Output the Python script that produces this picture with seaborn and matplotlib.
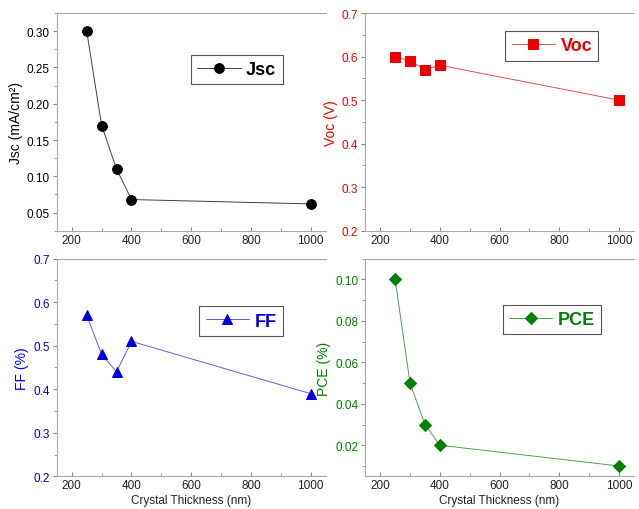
import numpy as np
import pandas as pd
import seaborn as sns
import matplotlib.pyplot as plt
from matplotlib.ticker import AutoMinorLocator, MultipleLocator

# Data
thickness = [250, 300, 350, 400, 1000]
jsc = [0.30, 0.17, 0.11, 0.068, 0.062]
voc = [0.60, 0.59, 0.57, 0.58, 0.50]
ff = [0.57, 0.48, 0.44, 0.51, 0.39]
pce = [0.10, 0.05, 0.03, 0.02, 0.01]

sns.set_style('ticks')
plt.rcParams['font.family'] = ['Liberation Sans', 'DejaVu Sans']

fig, axes = plt.subplots(2, 2, figsize=(6.39, 5.10), dpi=100)
fig.subplots_adjust(left=0.089, right=0.992, top=0.9725, bottom=0.064,
                    wspace=0.148, hspace=0.128)

panels = [
    (axes[0, 0], jsc, 'Jsc', 'o', 'black', '#404040', 'Jsc (mA/cm²)',
     (0.025, 0.325), 0.05, '%.2f', (0.67, 0.74)),
    (axes[0, 1], voc, 'Voc', 's', '#ee0000', '#e05050', 'Voc (V)',
     (0.2, 0.7), 0.1, '%.1f', (0.695, 0.85)),
    (axes[1, 0], ff, 'FF', '^', '#0000dd', '#6060d0', 'FF (%)',
     (0.2, 0.7), 0.1, '%.1f', (0.686, 0.713)),
    (axes[1, 1], pce, 'PCE', 'D', '#008000', '#50a050', 'PCE (%)',
     (0.005, 0.11), 0.02, '%.2f', (0.695, 0.72)),
]

for ax, vals, name, mk, col, lcol, ylab, ylim, step, fmt, legpos in panels:
    df = pd.DataFrame({'thickness': thickness, name: vals})
    sns.lineplot(data=df, x='thickness', y=name, ax=ax, color=lcol, linewidth=0.7,
                 marker=mk, markersize=7 if mk != 'D' else 6.5,
                 markerfacecolor=col, markeredgecolor=col, label=name)
    ax.set_xlim(150, 1050)
    ax.set_ylim(*ylim)
    ax.xaxis.set_major_locator(MultipleLocator(200))
    ax.xaxis.set_minor_locator(AutoMinorLocator(2))
    ax.yaxis.set_major_locator(MultipleLocator(step))
    ax.yaxis.set_minor_locator(AutoMinorLocator(2))
    ax.yaxis.set_major_formatter(plt.FormatStrFormatter(fmt))
    ax.set_ylabel(ylab, color=col, fontsize=10, labelpad=3)
    ax.set_xlabel('')
    ax.tick_params(axis='y', which='major', labelsize=8.5, length=3,
                   color='#888888', direction='out', pad=2, labelcolor=col)
    ax.tick_params(axis='y', which='minor', length=2, color='#888888', direction='out')
    ax.tick_params(axis='x', which='major', labelsize=8.5, length=3,
                   color='#888888', direction='in', pad=2, labelcolor='#222222')
    ax.tick_params(axis='x', which='minor', length=2, color='#888888', direction='in')
    for side in ['left', 'bottom', 'top']:
        ax.spines[side].set_color('#aaaaaa')
        ax.spines[side].set_linewidth(0.8)
    ax.spines['right'].set_visible(False)
    leg = ax.legend(loc='center', bbox_to_anchor=legpos, fancybox=False,
                    framealpha=1, edgecolor='#555555', handlelength=2.4,
                    borderpad=0.35, handletextpad=0.3,
                    prop={'weight': 'bold', 'size': 13})
    leg.get_frame().set_linewidth(0.8)
    for t in leg.get_texts():
        t.set_color(col)

for ax in axes[1]:
    ax.set_xlabel('Crystal Thickness (nm)', fontsize=8.5, color='#222222', labelpad=2)

fig.savefig('out.png', dpi=100)
